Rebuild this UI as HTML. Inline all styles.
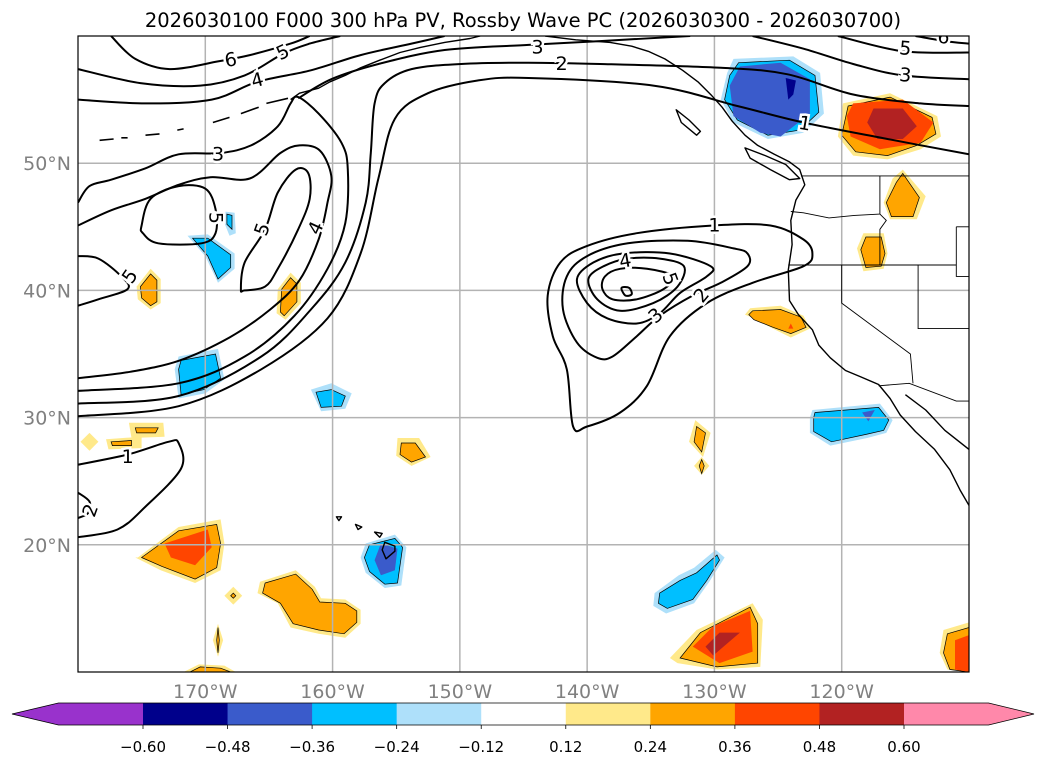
<!DOCTYPE html>
<html><head><meta charset="utf-8"><style>
html,body{margin:0;padding:0;background:#fff;}
svg{display:block;font-family:"DejaVu Sans","Liberation Sans",sans-serif;}
</style></head><body>
<svg id="chart" width="1047" height="765" viewBox="0 0 1047 765" xmlns="http://www.w3.org/2000/svg">
<text x="523" y="27" text-anchor="middle" font-size="19.5" fill="#000">2026030100 F000 300 hPa PV, Rossby Wave PC (2026030300 - 2026030700)</text>
<defs><clipPath id="mapclip"><rect x="78" y="36" width="891" height="636"/></clipPath></defs>
<g id="map" clip-path="url(#mapclip)"></g>
<rect x="78" y="36" width="891" height="636" fill="none" stroke="#000" stroke-width="1.2"/>
<g id="axes"></g>
<g id="cbar"></g>
</svg>
<script>
// ---- axes domain ----
const lonRange = [-180, -110];
const latRange = [10, 60];
const lonTicks = [-170, -160, -150, -140, -130, -120];
const lonTickLabels = ["170°W","160°W","150°W","140°W","130°W","120°W"];
const latTicks = [20, 30, 40, 50];
const latTickLabels = ["20°N","30°N","40°N","50°N"];
// ---- colorbar ----
const cbLevels = [-0.60,-0.48,-0.36,-0.24,-0.12,0.12,0.24,0.36,0.48,0.60];
const cbLabels = ["−0.60","−0.48","−0.36","−0.24","−0.12","0.12","0.24","0.36","0.48","0.60"];
const cbColors = ["#9932CC","#00008B","#3A5BCB","#00BFFF","#AEE0FA","#FFFFFF","#FFE98A","#FFA500","#FF4500","#B22222","#FF88AA"];
const levelColor = {p1:"#FFE98A",p2:"#FFA500",p3:"#FF4500",p4:"#B22222",n1:"#AEE0FA",n2:"#00BFFF",n3:"#3A5BCB",n4:"#00008B"};

// ---- PV anomaly shaded areas: [level, polygon of [lon,lat]] ----
const blobAlaska = [["n1",[[-128.5,58.2],[-123.8,58.4],[-121.7,57.1],[-121.4,53.9],[-123,52.4],[-125.8,51.9],[-128.5,53.2],[-129.5,55],[-129,57.1]]],
 ["n2",[[-128.1,57.9],[-124.1,58.1],[-122.1,56.9],[-121.8,54],[-123.3,52.6],[-125.8,52.2],[-128.2,53.4],[-129.2,55],[-128.8,56.9]]],
 ["n3",[[-128,57.6],[-124.8,57.9],[-122.5,56.6],[-122.5,53.9],[-124.8,52.1],[-126.4,52.4],[-128.5,53.7],[-128.8,56.1]]],
 ["n4",[[-124.4,56.7],[-123.6,56.5],[-123.8,55.4],[-124.2,55]]]];
const blobCanada = [["p1",[[-119.9,54.7],[-116.2,55.5],[-112.5,53.7],[-112.2,52.1],[-113.8,51.1],[-116.4,50.3],[-119.1,50.6],[-120.3,52.1]]],
 ["p2",[[-119.5,54.5],[-116.2,55.2],[-112.9,53.6],[-112.6,52.3],[-114.1,51.4],[-116.4,50.6],[-118.9,50.9],[-120,52.2]]],
 ["p3",[[-119.1,54.7],[-115.2,55],[-112.8,53.2],[-113.8,51.6],[-117,51.1],[-119.3,52.1],[-119.6,53.7]]],
 ["p4",[[-117.5,54.3],[-115.2,54.3],[-114.1,52.9],[-115.2,51.9],[-117.2,51.9],[-118,53.2]]]];
const blobIdaho = [["p1",[[-115.2,49.5],[-113.4,47.4],[-114.1,45.6],[-116.2,45.6],[-116.7,46.9],[-116,48.8]]],
 ["p2",[[-115.2,49.2],[-113.9,47.3],[-114.4,45.8],[-116.1,45.8],[-116.5,46.9],[-115.7,48.5]]]];
const blobOregon = [["p1",[[-118.3,44.5],[-116.7,44.5],[-116.4,42.9],[-116.7,41.7],[-118.3,41.5],[-118.8,43.3]]],
 ["p2",[[-118.1,44.2],[-116.9,44.2],[-116.6,42.9],[-116.9,41.9],[-118.1,41.8],[-118.5,43.2]]]];
const blobCalif = [["p1",[[-127.2,38.6],[-124.8,38.8],[-123,38],[-122.5,37],[-124,36.3],[-125.4,37],[-126.9,37.8],[-127.6,38.1]]],
 ["p2",[[-127,38.4],[-124.8,38.5],[-123.2,37.9],[-122.8,37.1],[-124,36.6],[-125.4,37.1],[-126.9,37.7],[-127.3,38.1]]],
 ["p3",[[-124.2,37.0],[-123.8,37.0],[-124,37.4]]]];
const blobBaja = [["n1",[[-122.3,30.6],[-117,31.1],[-116,29.8],[-116.5,28.8],[-118,28.4],[-120.9,27.8],[-122.5,28.8],[-122.5,30]]],
 ["n2",[[-122.1,30.4],[-117.1,30.8],[-116.3,29.8],[-116.7,29],[-118,28.7],[-120.8,28.1],[-122.2,28.9],[-122.2,30]]],
 ["n3",[[-118.4,30.4],[-117.4,30.6],[-117.9,29.7]]]];
const blobWestA = [["n1",[[-172.1,34.8],[-169,35.4],[-168.5,33],[-170,31.9],[-172.1,31.5],[-172.4,33.8]]],
 ["n2",[[-171.9,34.5],[-169.2,35],[-168.8,33.1],[-170.1,32.2],[-171.9,31.8],[-172.1,33.8]]]];
const blobWestB = [["n1",[[-161.7,32.2],[-160.1,32.7],[-158.5,31.9],[-159,30.7],[-160.9,30.5]]],
 ["n2",[[-161.3,32],[-160.1,32.2],[-159,31.7],[-159.3,30.9],[-160.9,30.8]]]];
const blobWestC = [["n1",[[-168.5,46.2],[-167.7,46.1],[-167.6,44.5],[-168.1,44.3],[-168.5,45.3]]],
 ["n2",[[-168.3,46],[-167.9,45.9],[-167.9,44.8],[-168.3,45.2]]]];
const blobWestD = [["n1",[[-171.4,44.3],[-169.8,44.4],[-167.7,42.9],[-167.7,41.7],[-169,40.6],[-170,42.7]]],
 ["n2",[[-171,44.1],[-169.8,44.1],[-168,42.8],[-168,41.8],[-169,40.9],[-169.8,42.7]]]];
const blobWestE = [["p1",[[-174.3,41.7],[-173.5,40.9],[-173.5,39],[-174.3,38.5],[-175.3,39.3],[-175.4,40.3]]],
 ["p2",[[-174.3,41.3],[-173.8,40.8],[-173.8,39.1],[-174.3,38.8],[-175,39.4],[-175.1,40.3]]]];
const blobWestF = [["p1",[[-163.3,41.4],[-162.5,40.6],[-162.5,39],[-163.7,37.7],[-164.4,38.2],[-164.3,40.1]]],
 ["p2",[[-163.3,41],[-162.8,40.5],[-162.8,39.1],[-163.8,38],[-164.1,38.3],[-164,40.1]]]];
const blobSW = [["p1",[[-175.3,19],[-172.1,21.4],[-168.8,22],[-168.5,20.1],[-168.8,18],[-170.8,17],[-173.5,18],[-175.5,19]]],
 ["p2",[[-175,19],[-172.1,21.1],[-169.1,21.6],[-168.8,20.1],[-169.1,18.2],[-170.8,17.3],[-173.4,18.3],[-175,19]]],
 ["p3",[[-173.2,20.1],[-169.8,21.2],[-169.5,19.8],[-170.8,18.4],[-172.7,19]]]];
const blobHawaiiW = [["p1",[[-165.7,17.1],[-162.9,18],[-161.4,16.7],[-160.9,15.8],[-159,15.7],[-157.8,14.9],[-157.8,13.8],[-159,12.7],[-161.1,13],[-163.3,13.5],[-164.3,15.4],[-165.9,16.2]]],
 ["p2",[[-165.3,17],[-162.9,17.7],[-161.6,16.5],[-161,15.5],[-159,15.4],[-158.1,14.8],[-158.1,13.9],[-159.1,13],[-161.1,13.3],[-163.1,13.8],[-164.1,15.4],[-165.5,16.2]]]];
const blobHawaii = [["n1",[[-157.4,20.1],[-155.1,20.8],[-154.2,19.8],[-154.6,16.8],[-155.9,16.6],[-157.4,17.8],[-157.8,19]]],
 ["n2",[[-157.1,20],[-155.1,20.5],[-154.5,19.8],[-154.9,17],[-155.9,16.9],[-157.1,17.9],[-157.5,19]]],
 ["n3",[[-156.2,20.1],[-154.9,19.7],[-155.1,18],[-156.2,17.6],[-156.7,18.8]]]];
const blobSmallA = [["p1",[[-176,29.6],[-173.3,29.6],[-173.2,28.5],[-175.8,28.4]]],["p2",[[-175.5,29.2],[-173.7,29.2],[-173.9,28.8],[-175.4,28.8]]]];
const blobSmallB = [["p1",[[-177.8,28.3],[-175,28.5],[-175,27.6],[-177.6,27.5]]],["p2",[[-177.4,28.1],[-175.8,28.2],[-175.8,27.8],[-177.3,27.8]]]];
const blobSmallC = [["p1",[[-179.8,28.1],[-179.1,28.8],[-178.4,28.1],[-179.1,27.4]]]];
const blobSmallD = [["p1",[[-154.9,28.4],[-153.2,28.4],[-152.3,26.9],[-153.8,26.2],[-155,27]]],["p2",[[-154.6,28],[-153.5,28],[-152.7,26.9],[-153.8,26.5],[-154.7,27.1]]]];
const blobSmallE = [["p1",[[-169.4,12.5],[-169,13.8],[-168.6,12.5],[-169,11.2]]],["p2",[[-169.1,12.5],[-169,13.5],[-168.9,12.5],[-169,11.5]]]];
const blobSmallF = [["p1",[[-171.7,10],[-170.5,10.6],[-168.5,10.5],[-167.6,10]]],["p2",[[-171.2,10],[-170.4,10.4],[-168.8,10.3],[-168,10]]]];
const blobSmallG = [["p1",[[-168.5,16],[-167.8,16.7],[-167.1,16],[-167.8,15.3]]],["p2",[[-168,16],[-167.8,16.2],[-167.6,16],[-167.8,15.8]]]];
const blobSmallH = [["p1",[[-131.5,29.8],[-130.3,28.8],[-130.9,26.9],[-132,28.1]]],["p2",[[-131.4,29.3],[-130.7,28.8],[-131,27.3],[-131.6,28.1]]]];
const blobSmallI = [["p1",[[-131.6,26.2],[-131,26.9],[-130.4,26.2],[-131,25.5]]],["p2",[[-131.2,26.2],[-131,26.7],[-130.8,26.2],[-131,25.6]]]];
const blobSouthBlue = [["n1",[[-134.7,16.2],[-132.8,17.6],[-131.6,18.2],[-129.9,19.6],[-129.2,19.0],[-130.4,17.1],[-131.6,15.4],[-133.8,14.6],[-134.8,15.2]]],
 ["n2",[[-134.3,16.2],[-132.7,17.2],[-131.4,17.8],[-129.8,19.2],[-129.6,18.8],[-130.6,17.2],[-131.7,15.7],[-133.7,15],[-134.4,15.4]]]];
const blobSouthRed = [["p1",[[-133.5,11.1],[-131.4,13.3],[-127,15.4],[-126.2,14.1],[-126.4,10.4],[-129.8,10.2],[-132.9,10.7]]],
 ["p2",[[-132.7,11.1],[-131.1,13.1],[-127.2,15.1],[-126.6,13.8],[-126.6,10.7],[-129.8,10.4]]],
 ["p3",[[-131.7,12],[-130.1,13.6],[-127.2,14.8],[-127,11.6],[-129.6,10.7]]],
 ["p4",[[-130.7,12],[-129.6,13.1],[-128,13.1],[-130.1,11.3]]]];
const blobSE = [["p1",[[-112,13.3],[-110,13.9],[-110,10],[-111.7,10.2],[-112.3,11.5]]],
 ["p2",[[-111.7,13],[-110,13.5],[-110,10],[-111.5,10.2],[-112,11.5]]],
 ["p3",[[-111.1,12.5],[-110,12.9],[-110,10],[-111.1,10.2]]]];
const blobs = [blobAlaska,blobCanada,blobIdaho,blobOregon,blobCalif,blobBaja,blobWestA,blobWestB,blobWestC,blobWestD,blobWestE,blobWestF,blobSW,blobHawaiiW,blobHawaii,blobSmallA,blobSmallB,blobSmallC,blobSmallD,blobSmallE,blobSmallF,blobSmallG,blobSmallH,blobSmallI,blobSouthBlue,blobSouthRed,blobSE];

// ---- PV contours ----
const cont3L = [[-180,46.9],[-179.1,48.2],[-177.4,48.7],[-174.7,49.6],[-172.1,50.7],[-168.8,50.8],[-166.4,51.4],[-164.3,52.9],[-163.3,54.7],[-162.7,55.2],[-161.1,53.9],[-159.3,51.6],[-158.8,49.5],[-159,45.3],[-160.4,41.7],[-163,38],[-166.9,34.8],[-172.1,32.7],[-180,32.1]];
const cont4L = [[-180,45.1],[-177.4,46.3],[-174.7,47.2],[-172.1,48.3],[-169.6,48.9],[-166.5,48.8],[-164.1,50.8],[-162.6,51.4],[-161,51],[-160.1,49],[-160.4,46.9],[-161.1,44],[-162.6,40.8],[-164.9,38.5],[-168.1,36.3],[-172,34.5],[-175.9,33.6],[-180,33.1]];
const cont2 = [[-180,31.1],[-172.1,31.7],[-165.6,34.8],[-161.7,38.5],[-159,42.2],[-157.4,46.9],[-157,50.8],[-156.7,54.7],[-155.9,56.3],[-153.8,57.4],[-149.9,57.8],[-144.6,57.9],[-139,57.8],[-129.5,57.5],[-124.3,57],[-119.1,55.4],[-113.8,54.7],[-110,54.5]];
const cont1 = [[-180,30.1],[-172.1,30.9],[-165.6,33.8],[-160.4,37.8],[-157.8,42.9],[-156.4,48.8],[-155.1,53.5],[-152.5,55.5],[-148.6,56.5],[-144.6,56.7],[-134.8,56.1],[-128.2,54.5],[-123,53.2],[-116.4,51.9],[-110,50.7]];
const cont6T = [[-177.4,60],[-175.5,58.2],[-172.8,57.4],[-169,58],[-166.5,58.5],[-163.3,59.4],[-161.8,60]];
const cont5T = [[-180,57.4],[-175.1,56.3],[-170.4,56.1],[-166.9,56.9],[-163.9,58.6],[-161.8,59.4],[-159.4,60]];
const cont4T = [[-180,55],[-174.7,54.7],[-169.5,55],[-165.9,56.4],[-161.7,57.3],[-157.8,58.5],[-153.8,59.4],[-151.2,60]];
const cont3T = [[-162.7,55.1],[-160.1,56.6],[-156.4,57.8],[-151.2,58.9],[-144.6,59.3],[-139,59.6],[-131.9,60]];
const cont3R = [[-127,60],[-123,59],[-119.1,57.8],[-115.2,56.9],[-110,56.6]];
const cont5R = [[-120.3,60],[-115.2,58.8],[-110,58.7]];
const cont6R = [[-114.2,60],[-111.9,59.6],[-110,59.4]];
const low1 = [[-130.1,45.1],[-125.6,45.1],[-123,44],[-122.3,42.9],[-123,41.9],[-127,40.6],[-130.6,39],[-133.5,36.4],[-135.3,32.5],[-137.4,30.4],[-140,29.3],[-141.1,29.3],[-141.6,33.8],[-142.7,36.4],[-143.1,39.6],[-142.1,42.2],[-140,43.5],[-136.1,44.5]];
const low2 = [[-127.4,42.9],[-127.4,41.9],[-129.5,40.6],[-131.7,39.6],[-134.3,38],[-136.1,36.4],[-138,34.8],[-139.2,34.7],[-140.8,35.9],[-141.9,38.5],[-141.6,41.1],[-140,42.7],[-136.8,43.7],[-132.1,43.9],[-128.5,43.3]];
const low3 = [[-130.3,41.9],[-130.6,41.1],[-132.7,39.8],[-134.3,38.2],[-136.1,37.4],[-138.4,37.8],[-140,39],[-140.8,40.9],[-139.5,42.2],[-137.2,42.9],[-133.5,42.9]];
const low4 = [[-132.4,41.9],[-132.9,40.3],[-134.8,39],[-137.4,38.4],[-139.2,39.3],[-139.9,40.9],[-138.7,41.9],[-136.8,42.5],[-134.3,42.5]];
const low5 = [[-133.2,41.1],[-134,40.1],[-136.1,39.3],[-138,39.3],[-138.8,40.1],[-138.6,41.1],[-137.4,41.7],[-135.3,41.7]];
const low6 = [[-137.3,40.2],[-136.7,40.2],[-136.5,39.7],[-137,39.6]];
const contBL1 = [[-180,26.3],[-176.1,27.1],[-172.9,28.1],[-172.1,28],[-171.9,26],[-174.7,23],[-176.9,21.2],[-180,20.6]];
const contBL2 = [[-180,24.1],[-179.1,23.4],[-179.2,22.5],[-180,22.1]];
const cont5a = [[-180,42.7],[-178.4,42.5],[-176.6,41.1],[-176.1,40.1],[-178.4,39.3],[-180,38.8]];
const cont5b = [[-175,45.1],[-174.3,47.2],[-172.1,48.2],[-170,48],[-169.2,46.4],[-169.2,44.5],[-170.3,43.7],[-173.7,43.7],[-174.9,44.5]];
const cont5c = [[-167.2,40.1],[-166.9,42.2],[-165.3,44.8],[-164.3,47.7],[-162.9,49.5],[-161.9,49.2],[-161.8,47.2],[-162.7,44.8],[-164.3,41.7],[-165.3,40.3],[-166.9,40]];
const openContours = [cont3L,cont4L,cont2,cont1,cont6T,cont5T,cont4T,cont3T,cont3R,cont5R,cont6R,contBL1,contBL2,cont5a];
const closedContours = [low1,low2,low3,low4,low5,low6,cont5b,cont5c];
const contourLabels = [["6",-168,58.1,-10],["5",-163.9,58.7,-25],["4",-165.9,56.5,-15],["3",-169,50.7,0],["5",-169.2,45.7,90],["5",-165.5,44.8,-70],["4",-161.3,44.9,-65],["5",-175.9,41.1,-55],["3",-143.9,59.1,0],["2",-142,57.8,0],["1",-122.9,53.1,10],["3",-115,56.9,5],["5",-115,59,5],["6",-112,59.9,5],["1",-130,45.1,0],["4",-137,42.3,-10],["5",-133.5,40.9,70],["2",-131,39.6,-50],["3",-134.6,38,-40],["1",-176.1,26.9,0],["2",-179,22.7,-70]];

// ---- geography ----
const coastMain = [[-143.3,60],[-140.9,59.7],[-138.2,59.5],[-136.5,59.2],[-135.2,58.8],[-133.9,58.2],[-132.5,57.3],[-131.3,56.4],[-130.2,55.3],[-129.4,54.4],[-128.6,53.3],[-127.6,52.2],[-126.6,51.4],[-125.3,50.7],[-124.1,50.1],[-123.3,49.5],[-122.9,48.3],[-123.6,47.1],[-124,45.5],[-123.9,43.6],[-124.2,41.6],[-124.1,39.2],[-123.4,38.1],[-122.3,36.9],[-121.8,35.7],[-120.9,34.7],[-119.7,33.7],[-118.5,33.2],[-117.1,32.6],[-116.2,31.5],[-115.4,30.2],[-114.2,28.9],[-112.7,27.5],[-111.5,25.9],[-110.7,24.3],[-110,23.1]];
const coastGulf = [[-115,31.8],[-113.4,30.6],[-111.9,29],[-110,27.5]];
const coastAK = [[-163.3,55],[-162.6,55.5],[-161.1,55.9],[-160.2,56.4],[-159,56.9],[-157.8,57.5],[-156.3,58.1],[-154.7,58.7],[-153.1,59.1],[-151.2,59.5],[-149.2,59.8],[-148.4,60]];
const vancouverIs = [[-127.6,51.2],[-126,50.6],[-124.4,49.9],[-123.3,48.8],[-124.1,48.7],[-125.6,49.5],[-127.2,50.4]];
const haidaGwaii = [[-133,54.2],[-132,53.4],[-131.1,52.5],[-131.4,52.2],[-132.6,53.2]];
const aleutians = [[[-178.3,51.8],[-177.2,51.9]],[[-176.6,52],[-176.1,52]],[[-174.7,52.2],[-173.6,52.3]],[[-172.2,52.6],[-171.7,52.7]],[[-169.4,53.2],[-168.1,53.6]],[[-167.2,53.9],[-165.8,54.4]],[[-165.2,54.7],[-163.5,55.1]]];
const hawaiiIslands = [[[-155.9,20.2],[-155.1,19.9],[-155.1,19.5],[-155.8,18.9],[-156.1,19.6]],[[-156.7,21],[-156.1,20.9],[-156.3,20.6]],[[-158.2,21.6],[-157.7,21.4],[-158.0,21.2]],[[-159.7,22.2],[-159.3,22.2],[-159.5,21.9]]];
const borders = [[[-123.2,49],[-110,49]],[[-124,46.2],[-123,46.1],[-121,45.7],[-119,45.9],[-117,46]],[[-117,49],[-117,46],[-116.5,45.5],[-117,44.8],[-117,42]],[[-124.2,42],[-111,42]],[[-111,45],[-110,45]],[[-111,45],[-111,41.1],[-110,41.1]],[[-120,42],[-120,39],[-114.6,35],[-114.4,32.7]],[[-114,42],[-114,37],[-110,37]],[[-117.1,32.5],[-114.7,32.7],[-111,31.3],[-110,31.3]]];

// ---- axis functions ----
const X0=78, X1=969, Y0=36, Y1=672;
function xs(lon){return X0+(lon-lonRange[0])/(lonRange[1]-lonRange[0])*(X1-X0);}
function ys(lat){return Y1-(lat-latRange[0])/(latRange[1]-latRange[0])*(Y1-Y0);}
const NS="http://www.w3.org/2000/svg";
function mk(tag,attrs,parent){const e=document.createElementNS(NS,tag);for(const k in attrs)e.setAttribute(k,attrs[k]);parent.appendChild(e);return e;}
function ptStr(pts){return pts.map(p=>xs(p[0]).toFixed(1)+","+ys(p[1]).toFixed(1)).join(" ");}
function smoothPath(pts,closed){
  const P=pts.map(p=>[xs(p[0]),ys(p[1])]);const n=P.length;
  if(n<3)return "M"+P.map(p=>p.join(",")).join("L");
  let d="M"+P[0][0].toFixed(1)+","+P[0][1].toFixed(1);
  const last=closed?n:n-1;
  for(let i=0;i<last;i++){
    const p0=P[closed?(i-1+n)%n:Math.max(i-1,0)],p1=P[i],p2=P[(i+1)%n],p3=P[closed?(i+2)%n:Math.min(i+2,n-1)];
    const c1=[p1[0]+(p2[0]-p0[0])/6,p1[1]+(p2[1]-p0[1])/6],c2=[p2[0]-(p3[0]-p1[0])/6,p2[1]-(p3[1]-p1[1])/6];
    d+="C"+c1[0].toFixed(1)+","+c1[1].toFixed(1)+" "+c2[0].toFixed(1)+","+c2[1].toFixed(1)+" "+p2[0].toFixed(1)+","+p2[1].toFixed(1);
  }
  return d+(closed?"Z":"");
}
const map=document.getElementById('map');
const gShade=mk('g',{},map);


blobs.forEach((b)=>{
  b.forEach((layer,li)=>{
    const e=mk('polygon',{points:ptStr(layer[1]),fill:levelColor[layer[0]],stroke:li===1?"#000":"none","stroke-width":"0.7"},gShade);
    
    
  });
});
const gGrid=mk('g',{stroke:"#b3b3b3","stroke-width":"1.5"},map);


lonTicks.forEach(l=>{mk('line',{x1:xs(l),x2:xs(l),y1:Y0,y2:Y1},gGrid);});
latTicks.forEach(l=>{mk('line',{x1:X0,x2:X1,y1:ys(l),y2:ys(l)},gGrid);});
const gGeo=mk('g',{fill:"none",stroke:"#000","stroke-width":"1.4","stroke-linejoin":"round"},map);


[coastMain,coastGulf,coastAK].forEach(c=>mk('polyline',{points:ptStr(c)},gGeo));
[vancouverIs,haidaGwaii].forEach(c=>mk('polygon',{points:ptStr(c)},gGeo));
aleutians.forEach(c=>mk('polyline',{points:ptStr(c),"stroke-width":"1.6"},gGeo));
hawaiiIslands.forEach(c=>mk('polygon',{points:ptStr(c)},gGeo));
const gB=mk('g',{fill:"none",stroke:"#000","stroke-width":"0.9"},map);


borders.forEach(c=>mk('polyline',{points:ptStr(c)},gB));
const gC=mk('g',{fill:"none",stroke:"#000","stroke-width":"2","stroke-linejoin":"round"},map);


openContours.forEach(c=>{const e=mk('path',{d:smoothPath(c,false)},gC);});
closedContours.forEach(c=>{const e=mk('path',{d:smoothPath(c,true)},gC);});
const gL=mk('g',{"font-size":"19","text-anchor":"middle","dominant-baseline":"central"},map);


contourLabels.forEach(l=>{
  const t=mk('text',{x:xs(l[1]),y:ys(l[2]),transform:"rotate("+l[3]+" "+xs(l[1])+" "+ys(l[2])+")",fill:"#000",stroke:"#fff","stroke-width":"5","paint-order":"stroke"},gL);
  t.textContent=l[0];
  
  
});
const ax=document.getElementById('axes');
lonTicks.forEach((l,i)=>{const t=mk('text',{x:xs(l),y:698,"text-anchor":"middle","font-size":"19",fill:"#808080"},ax);t.textContent=lonTickLabels[i];});
latTicks.forEach((l,i)=>{const t=mk('text',{x:71,y:ys(l)+7,"text-anchor":"end","font-size":"19",fill:"#808080"},ax);t.textContent=latTickLabels[i];});
// colorbar: boundaries evenly spaced by index
const cb=document.getElementById('cbar');
const CB0=143, CB1=904, CBY=703, CBH=22;
const step=(CB1-CB0)/(cbLevels.length-1);
function cbx(i){return CB0+i*step;}
for(let i=0;i<cbLevels.length-1;i++){
  const r=mk('rect',{x:cbx(i),y:CBY,width:step+0.5,height:CBH,fill:cbColors[i+1]},cb);
  
  
}
const lo=mk('polygon',{points:`${CB0},${CBY} ${CB0-step},${CBY} 12,${CBY+CBH/2} ${CB0-step},${CBY+CBH} ${CB0},${CBY+CBH}`,fill:cbColors[0]},cb);


const hi=mk('polygon',{points:`${CB1},${CBY} ${CB1+step},${CBY} 1034,${CBY+CBH/2} ${CB1+step},${CBY+CBH} ${CB1},${CBY+CBH}`,fill:cbColors[cbColors.length-1]},cb);


mk('polygon',{points:`12,${CBY+CBH/2} ${CB0-step},${CBY} ${CB1+step},${CBY} 1034,${CBY+CBH/2} ${CB1+step},${CBY+CBH} ${CB0-step},${CBY+CBH}`,fill:"none",stroke:"#000","stroke-width":"0.8"},cb);
cbLevels.forEach((v,i)=>{
  mk('line',{x1:cbx(i),x2:cbx(i),y1:CBY+CBH,y2:CBY+CBH+4,stroke:"#000","stroke-width":"0.8"},cb);
  const t=mk('text',{x:cbx(i),y:752,"text-anchor":"middle","font-size":"15",fill:"#000"},cb);
  t.textContent=cbLabels[i];
  
  
});
</script>
</body></html>
